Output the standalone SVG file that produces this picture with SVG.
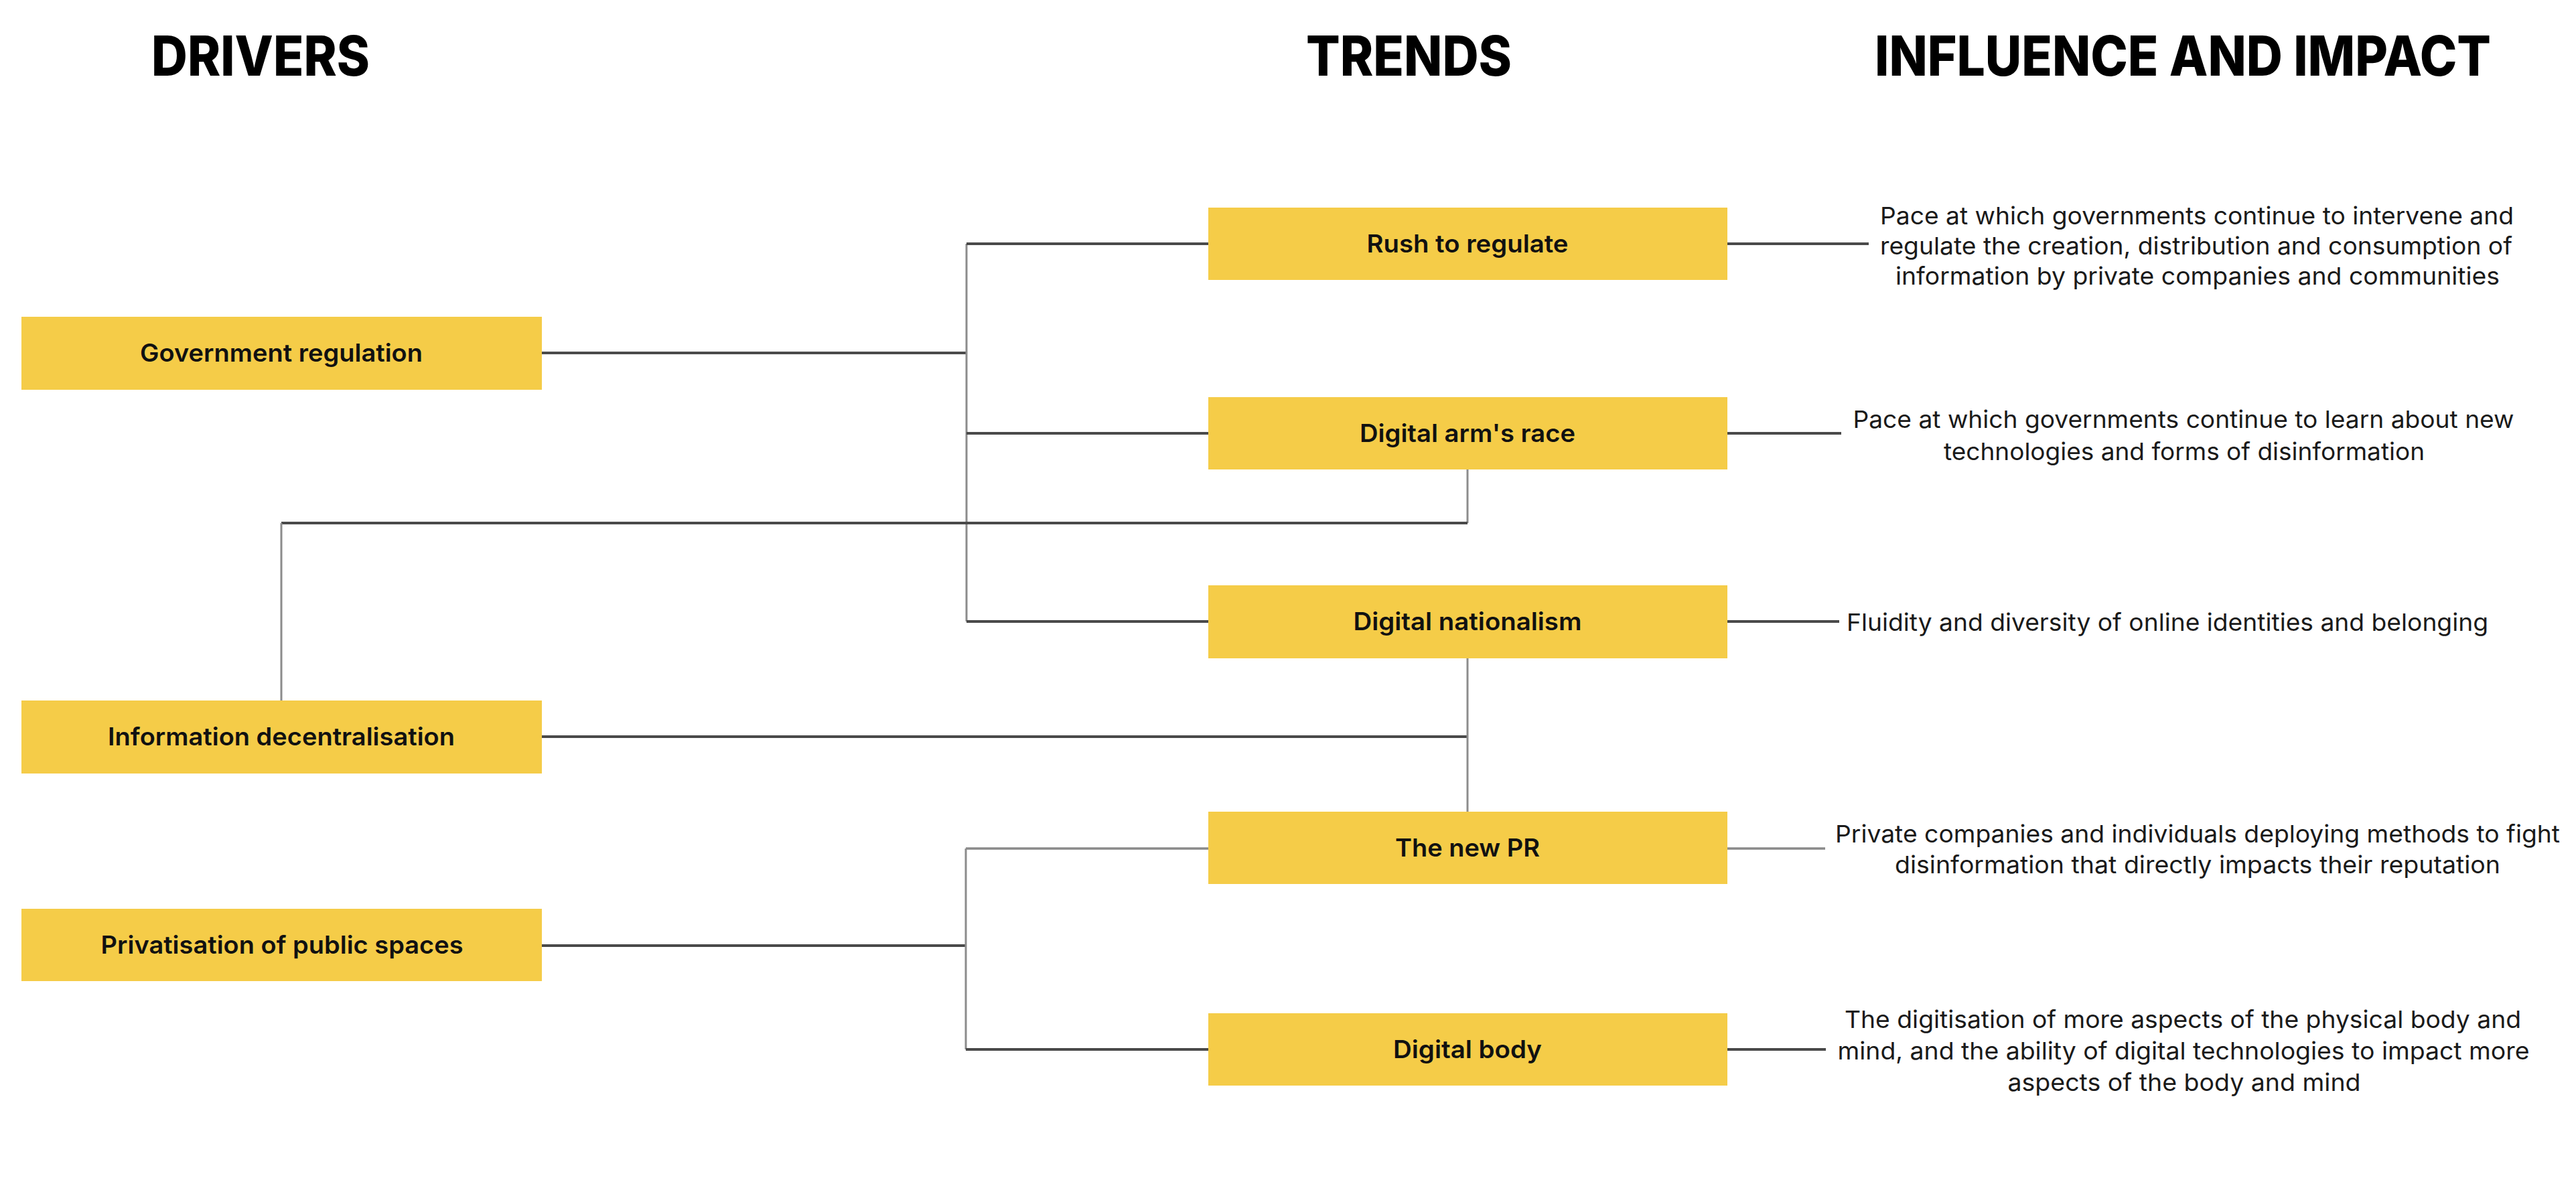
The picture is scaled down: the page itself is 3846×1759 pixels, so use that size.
<svg xmlns="http://www.w3.org/2000/svg" width="3846" height="1759" viewBox="0 0 3846 1759">
  <style>
    .bg { fill: #ffffff; }
    .box { fill: #f5cc48; }
    .head { font-family: Inter, "Liberation Sans", sans-serif; font-weight: 800; font-size: 82px; fill: #000000; }
    .label { font-family: Inter, "Liberation Sans", sans-serif; font-weight: 600; font-size: 37px; fill: #111111; text-anchor: middle; }
    .desc { font-family: Inter, "Liberation Sans", sans-serif; font-weight: 400; font-size: 36px; fill: #1a1a1a; text-anchor: middle; }
    .h { stroke: #4a4a4a; stroke-width: 4; fill: none; }
    .hl { stroke: #8a8a8a; stroke-width: 3.5; fill: none; }
    .v { stroke: #8c8c8c; stroke-width: 3; fill: none; }
  </style>
  <rect class="bg" x="0" y="0" width="3846" height="1759"/>

  <!-- column headings -->
  <g id="headings">
    <text class="head" x="226" y="113" textLength="326" lengthAdjust="spacingAndGlyphs">DRIVERS</text>
    <text class="head" x="1950" y="113" textLength="307" lengthAdjust="spacingAndGlyphs">TRENDS</text>
    <text class="head" x="2799" y="113" textLength="920" lengthAdjust="spacingAndGlyphs">INFLUENCE AND IMPACT</text>
  </g>

  <!-- connectors -->
  <g id="connectors">
    <!-- Government regulation branch -->
    <path class="h" d="M809 527 H1443"/>
    <path class="v" d="M1443 364 V928"/>
    <path class="h" d="M1443 364 H1804"/>
    <path class="h" d="M1443 647 H1804"/>
    <path class="h" d="M1443 928 H1804"/>
    <!-- Digital arm's race to Information decentralisation -->
    <path class="v" d="M2191 701 V781"/>
    <path class="h" d="M2191 781 H420"/>
    <path class="v" d="M420 781 V1046"/>
    <!-- Information decentralisation branch -->
    <path class="h" d="M809 1100 H2191"/>
    <path class="v" d="M2191 983 V1212"/>
    <!-- Privatisation of public spaces branch -->
    <path class="h" d="M808 1412 H1442"/>
    <path class="v" d="M1442 1267 V1567"/>
    <path class="hl" d="M1442 1267 H1804"/>
    <path class="h" d="M1442 1567 H1804"/>
    <!-- trends to impacts -->
    <path class="h" d="M2579 364 H2790"/>
    <path class="h" d="M2579 647 H2749"/>
    <path class="h" d="M2579 928 H2746"/>
    <path class="hl" d="M2579 1267 H2725"/>
    <path class="h" d="M2579 1567 H2726"/>
  </g>

  <!-- drivers -->
  <g id="driver-government-regulation">
    <rect class="box" x="32" y="473" width="777" height="109"/>
    <text class="label" x="420" y="540" textLength="422" lengthAdjust="spacingAndGlyphs">Government regulation</text>
  </g>
  <g id="driver-information-decentralisation">
    <rect class="box" x="32" y="1046" width="777" height="109"/>
    <text class="label" x="420" y="1113" textLength="518" lengthAdjust="spacingAndGlyphs">Information decentralisation</text>
  </g>
  <g id="driver-privatisation">
    <rect class="box" x="32" y="1357" width="777" height="108"/>
    <text class="label" x="421" y="1424" textLength="541" lengthAdjust="spacingAndGlyphs">Privatisation of public spaces</text>
  </g>

  <!-- trends -->
  <g id="trend-rush-to-regulate">
    <rect class="box" x="1804" y="310" width="775" height="108"/>
    <text class="label" x="2191" y="377" textLength="301" lengthAdjust="spacingAndGlyphs">Rush to regulate</text>
  </g>
  <g id="trend-digital-arms-race">
    <rect class="box" x="1804" y="593" width="775" height="108"/>
    <text class="label" x="2191" y="660" textLength="322" lengthAdjust="spacingAndGlyphs">Digital arm's race</text>
  </g>
  <g id="trend-digital-nationalism">
    <rect class="box" x="1804" y="874" width="775" height="109"/>
    <text class="label" x="2191" y="941" textLength="341" lengthAdjust="spacingAndGlyphs">Digital nationalism</text>
  </g>
  <g id="trend-new-pr">
    <rect class="box" x="1804" y="1212" width="775" height="108"/>
    <text class="label" x="2191" y="1279" textLength="216" lengthAdjust="spacingAndGlyphs">The new PR</text>
  </g>
  <g id="trend-digital-body">
    <rect class="box" x="1804" y="1513" width="775" height="108"/>
    <text class="label" x="2191" y="1580" textLength="222" lengthAdjust="spacingAndGlyphs">Digital body</text>
  </g>

  <!-- influence and impact -->
  <g id="impact-rush-to-regulate">
    <text class="desc" x="3280" y="335" textLength="946" lengthAdjust="spacingAndGlyphs">Pace at which governments continue to intervene and</text>
    <text class="desc" x="3279" y="380" textLength="944" lengthAdjust="spacingAndGlyphs">regulate the creation, distribution and consumption of</text>
    <text class="desc" x="3281" y="425" textLength="902" lengthAdjust="spacingAndGlyphs">information by private companies and communities</text>
  </g>
  <g id="impact-digital-arms-race">
    <text class="desc" x="3260" y="639" textLength="987" lengthAdjust="spacingAndGlyphs">Pace at which governments continue to learn about new</text>
    <text class="desc" x="3261" y="687" textLength="718" lengthAdjust="spacingAndGlyphs">technologies and forms of disinformation</text>
  </g>
  <g id="impact-digital-nationalism">
    <text class="desc" x="3236" y="942" textLength="958" lengthAdjust="spacingAndGlyphs">Fluidity and diversity of online identities and belonging</text>
  </g>
  <g id="impact-new-pr">
    <text class="desc" x="3281" y="1258" textLength="1082" lengthAdjust="spacingAndGlyphs">Private companies and individuals deploying methods to fight</text>
    <text class="desc" x="3281" y="1304" textLength="904" lengthAdjust="spacingAndGlyphs">disinformation that directly impacts their reputation</text>
  </g>
  <g id="impact-digital-body">
    <text class="desc" x="3259" y="1535" textLength="1010" lengthAdjust="spacingAndGlyphs">The digitisation of more aspects of the physical body and</text>
    <text class="desc" x="3260" y="1582" textLength="1033" lengthAdjust="spacingAndGlyphs">mind, and the ability of digital technologies to impact more</text>
    <text class="desc" x="3261" y="1629" textLength="527" lengthAdjust="spacingAndGlyphs">aspects of the body and mind</text>
  </g>
</svg>
